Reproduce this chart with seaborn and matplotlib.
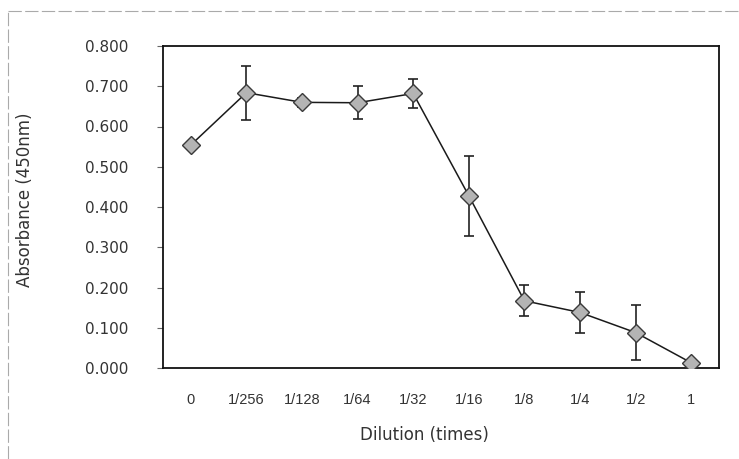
import matplotlib
matplotlib.use("Agg")
import matplotlib.pyplot as plt
import seaborn as sns
import pandas as pd
from matplotlib.lines import Line2D

dilutions = ["0", "1/256", "1/128", "1/64", "1/32", "1/16", "1/8", "1/4", "1/2", "1"]
absorbance = [0.554, 0.684, 0.660, 0.659, 0.682, 0.428, 0.167, 0.138, 0.088, 0.013]
errors = [0.0, 0.067, 0.012, 0.041, 0.036, 0.099, 0.038, 0.050, 0.069, 0.0]
yticks = [0.0, 0.1, 0.2, 0.3, 0.4, 0.5, 0.6, 0.7, 0.8]

df = pd.DataFrame({"Dilution": dilutions, "Absorbance": absorbance, "err": errors})

sns.set_theme(style="white")
plt.rcParams["font.family"] = ["Liberation Sans", "DejaVu Sans"]

fig = plt.figure(figsize=(7.39, 4.59), dpi=100)
ax = fig.add_axes([163 / 739, 1 - 368 / 459, (719 - 163) / 739, (368 - 46) / 459])

ax.errorbar(df["Dilution"], df["Absorbance"], yerr=df["err"], fmt="none",
            ecolor="#222222", elinewidth=1.2, capsize=3.5, capthick=1.2, zorder=2)
sns.lineplot(data=df, x="Dilution", y="Absorbance", ax=ax, color="#1a1a1a",
             linewidth=1.1, marker="D", markersize=9, markerfacecolor="#b4b4b4",
             markeredgecolor="#3a3a3a", markeredgewidth=1.0, sort=False, zorder=3)

ax.set_xlim(-0.5, 9.5)
ax.set_ylim(0, 0.8)
ax.set_yticks(yticks)
ax.set_yticklabels([f"{v:.3f}" for v in yticks], family="DejaVu Sans", fontsize=11)
for s in ax.spines.values():
    s.set_color("#111111")
    s.set_linewidth(1.3)
ax.tick_params(axis="y", which="both", left=True, length=4, width=0.8, color="#666666",
               direction="out", pad=21, labelcolor="#333333")
ax.tick_params(axis="x", bottom=False, pad=12, labelsize=10.5, labelcolor="#333333")

ax.set_xlabel("Dilution (times)", fontsize=12, color="#333333", family="DejaVu Sans")
ax.set_ylabel("Absorbance (450nm)", fontsize=12, color="#333333", family="DejaVu Sans")
ax.xaxis.set_label_coords((424 - 163) / 556, -(435 - 368) / 322)
ax.yaxis.set_label_coords(-(163 - 25) / 556, (368 - 200) / 322)
ax.xaxis.label.set_va("center")
ax.yaxis.label.set_va("center")

# faint scan border
fig.add_artist(Line2D([8 / 739, 1.0], [1 - 11 / 459, 1 - 11 / 459], transform=fig.transFigure,
                      color="#aaaaaa", linewidth=0.8, linestyle=(0, (12, 3))))
fig.add_artist(Line2D([8 / 739, 8 / 739], [0.0, 1 - 11 / 459], transform=fig.transFigure,
                      color="#aaaaaa", linewidth=0.8, linestyle=(0, (12, 3))))

fig.savefig("out.png", dpi=100)
